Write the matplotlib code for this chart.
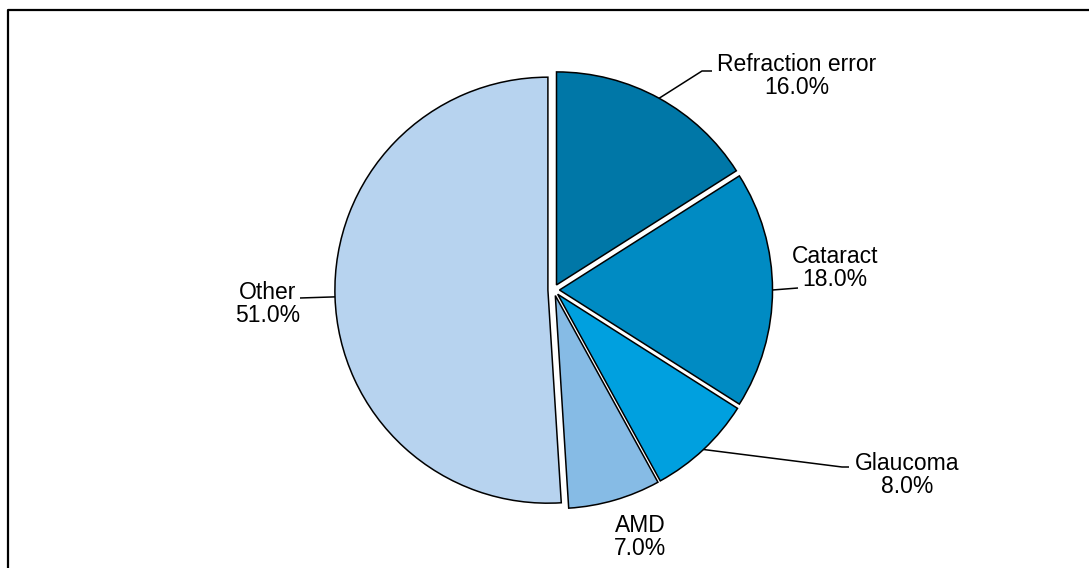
import numpy as np
import matplotlib
matplotlib.use("Agg")
import matplotlib.pyplot as plt

plt.rcParams['font.family'] = ['Liberation Sans', 'DejaVu Sans']

# 数据
labels = ["Refraction error", "Cataract", "Glaucoma", "AMD", "Other"]
shares = [16.0, 18.0, 8.0, 7.0, 51.0]
colors = ["#0077A7", "#008BC3", "#00A0DF", "#86BBE5", "#B7D3EF"]

# 画布：像素坐标系（y 向下）
W, H = 1089, 568
fig = plt.figure(figsize=(W / 100, H / 100), dpi=100)
ax = fig.add_axes([0, 0, 1, 1])

center = (553.7, 290.0)
radius = 213.0

# y 轴翻转后，startangle=-90 + 逆时针 = 视觉上从 12 点顺时针
# explode 在数据单位里（这里是像素）
wedges, _ = ax.pie(
    shares,
    colors=colors,
    startangle=-90,
    counterclock=True,
    center=center,
    radius=radius,
    explode=[5.8] * len(shares),
    wedgeprops=dict(edgecolor="black", linewidth=1.1),
)

ax.set_xlim(0, W)
ax.set_ylim(H, 0)
ax.set_aspect("equal")
ax.axis("off")


def arc_point(w):
    mid = np.deg2rad((w.theta1 + w.theta2) / 2)
    cx, cy = w.center
    return cx + w.r * np.cos(mid), cy + w.r * np.sin(mid)


# 标签位置 + 引线拐点
label_pos = [(797, 76), (835, 268), (907, 475), (640, 537), (268, 304)]
leader_pts = [
    [(702, 71), (712, 71)],
    [(798, 288)],
    [(842, 467), (849, 467)],
    None,
    [(300, 298)],
]

for w, lab, val, pos, pts in zip(wedges, labels, shares, label_pos, leader_pts):
    ax.text(pos[0], pos[1], f"{lab}\n{val:.1f}%", ha="center", va="center",
            fontsize=16.5, linespacing=1.0, color="black")
    if pts is not None:
        xs, ys = zip(*([arc_point(w)] + pts))
        ax.plot(xs, ys, color="black", lw=1.1, solid_capstyle="butt")

# 外框（只露出上边和左边）
ax.plot([8, 8, W + 5], [H + 5, 10, 10], color="black", lw=1.6, clip_on=False)

fig.savefig("out.png", dpi=100)
